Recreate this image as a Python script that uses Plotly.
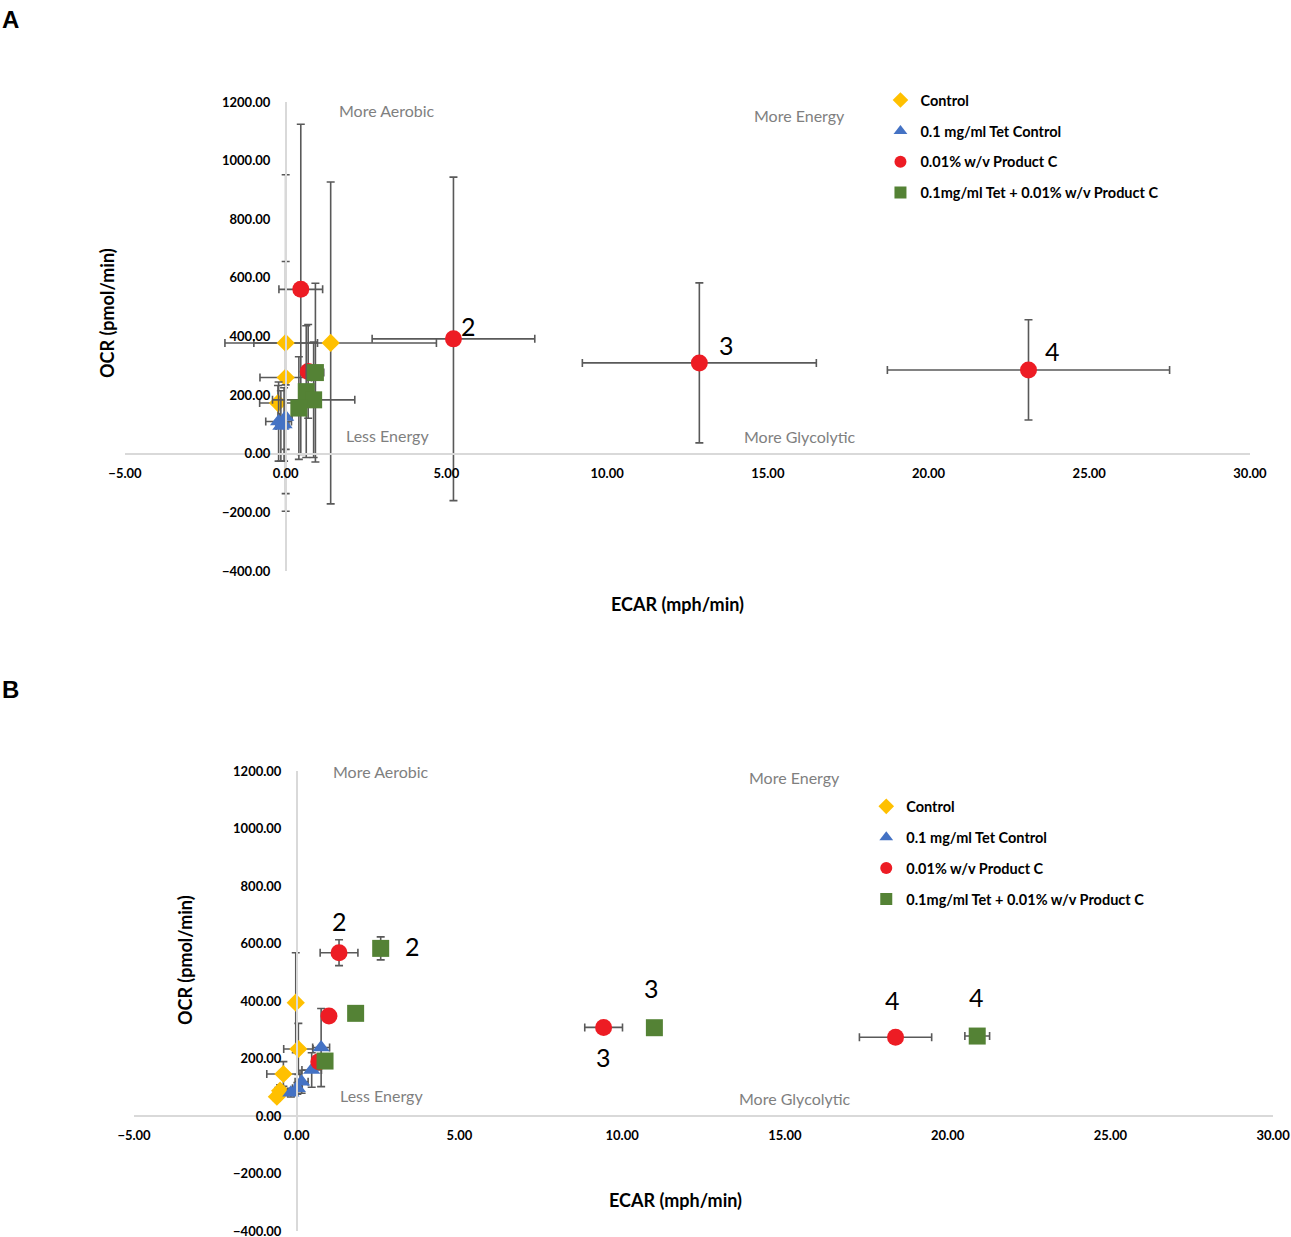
import plotly.graph_objects as go

# --- Panel A data (ECAR, OCR, error) ---
a_ctrl_x = [0.0, 1.40, 0.0, -0.24]
a_ctrl_y = [378, 378, 260, 173]
a_ctrl_ex = [0.99, 3.29, 0.80, 0.57]
a_ctrl_ey = [574, 549, 396, 60]

a_tet_x = [-0.15, -0.22, -0.05, 0.0]
a_tet_y = [95, 110, 100, 125]
a_tet_ex = [0.15, 0.40, 0.15, 0.20]
a_tet_ey = [120, 135, 125, 110]

a_prod_x = [0.47, 0.70, 5.22, 12.87, 23.11]
a_prod_y = [561, 281, 392, 310, 286]
a_prod_ex = [0.68, 0.15, 2.53, 3.64, 4.39]
a_prod_ey = [563, 160, 552, 273, 171]

a_comb_x = [0.925, 0.64, 0.87, 0.41]
a_comb_y = [277, 212, 184, 156]
a_comb_ex = [0.26, 0.15, 1.28, 0.20]
a_comb_ey = [305, 225, 197, 175]

# --- Panel B data ---
b_ctrl_x = [-0.03, 0.05, -0.41, -0.51, -0.61]
b_ctrl_y = [394, 233, 146, 88, 67]
b_ctrl_ex = [0.05, 0.45, 0.51, 0.15, 0.10]
b_ctrl_ey = [174, 89, 43, 20, 15]

b_tet_x = [0.75, 0.46, 0.15, 0.02, -0.18]
b_tet_y = [238, 160, 119, 96, 81]
b_tet_ex = [0.26, 0.30, 0.20, 0.15, 0.10]
b_tet_ey = [136, 60, 40, 20, 15]

b_prod_x = [1.30, 0.99, 0.68, 9.43, 18.40]
b_prod_y = [568, 348, 189, 308, 274]
b_prod_ex = [0.58, 0.05, 0.10, 0.58, 1.11]
b_prod_ey = [45, 10, 15, 10, 10]

b_comb_x = [2.58, 1.81, 0.87, 10.99, 20.91]
b_comb_y = [583, 357, 191, 307, 278]
b_comb_ex = [0.05, 0.12, 0.05, 0.05, 0.38]
b_comb_ey = [40, 10, 10, 5, 5]

series_names = ['Control', '0.1 mg/ml Tet Control', '0.01% w/v Product C',
                '0.1mg/ml Tet + 0.01% w/v Product C']
series_colors = ['#FFC000', '#4472C4', '#ED1C24', '#548235']
series_symbols = ['diamond', 'triangle-up', 'circle', 'square']
series_sizes = [14, 15, 17, 17]

# numbered time-point labels: (series index, point index, text, xshift, yshift)
a_labels = [(2, 2, '2', 15, 13), (2, 3, '3', 27, 18), (2, 4, '4', 24, 19)]
b_labels = [(2, 0, '2', 0, 32), (3, 0, '2', 32, 2), (2, 3, '3', 0, -30),
            (3, 3, '3', -3, 40), (2, 4, '4', -3, 37), (3, 4, '4', -1, 39)]

FONT = 'Lato'
ERR = '#595959'
AXLINE = '#d9d9d9'

# panel geometry (paper coords)
A_X = [0.0968, 0.9682]
A_Y = [0.5384, 0.9175]
B_X = [0.1038, 0.9861]
B_Y = [0.0049, 0.3767]
X_RANGE = [-5, 30]
Y_RANGE = [-400, 1200]


def pos_of_zero(dom, rng):
    return dom[0] + (0 - rng[0]) / (rng[1] - rng[0]) * (dom[1] - dom[0])


fig = go.Figure()

panels = [
    ('x', 'y', 'legend', [
        (a_ctrl_x, a_ctrl_y, a_ctrl_ex, a_ctrl_ey),
        (a_tet_x, a_tet_y, a_tet_ex, a_tet_ey),
        (a_prod_x, a_prod_y, a_prod_ex, a_prod_ey),
        (a_comb_x, a_comb_y, a_comb_ex, a_comb_ey)]),
    ('x2', 'y2', 'legend2', [
        (b_ctrl_x, b_ctrl_y, b_ctrl_ex, b_ctrl_ey),
        (b_tet_x, b_tet_y, b_tet_ex, b_tet_ey),
        (b_prod_x, b_prod_y, b_prod_ex, b_prod_ey),
        (b_comb_x, b_comb_y, b_comb_ex, b_comb_ey)]),
]

for xa, ya, leg, data in panels:
    for i, (xs, ys, exs, eys) in enumerate(data):
        fig.add_trace(go.Scatter(
            x=xs, y=ys, mode='markers', name=series_names[i],
            xaxis=xa, yaxis=ya, legend=leg, legendgroup=f'{leg}{i}',
            marker=dict(symbol=series_symbols[i], color=series_colors[i],
                        size=series_sizes[i], line=dict(width=0)),
            error_x=dict(type='data', array=exs, color=ERR, thickness=1.6, width=4),
            error_y=dict(type='data', array=eys, color=ERR, thickness=1.6, width=4),
        ))

# number labels
annotations = []
for xa, ya, data, labels in [('x', 'y', panels[0][3], a_labels), ('x2', 'y2', panels[1][3], b_labels)]:
    for s, p, txt, dx, dy in labels:
        annotations.append(dict(
            x=data[s][0][p], y=data[s][1][p], xref=xa, yref=ya, text=txt,
            showarrow=False, xshift=dx, yshift=dy, xanchor='center', yanchor='middle',
            font=dict(family=FONT, size=25, color='black')))

# quadrant labels
quad = [('More Aerobic', 0.233, 0.981), ('More Energy', 0.600, 0.972),
        ('Less Energy', 0.233, 0.290), ('More Glycolytic', 0.600, 0.286)]
quad_b = [('More Aerobic', 0.217, 0.998), ('More Energy', 0.580, 0.987),
          ('Less Energy', 0.217, 0.2935), ('More Glycolytic', 0.580, 0.287)]
for xa, ya, items in [('x', 'y', quad), ('x2', 'y2', quad_b)]:
    for txt, fx, fy in items:
        annotations.append(dict(
            x=fx, y=fy, xref=f'{xa} domain', yref=f'{ya} domain', text=txt,
            showarrow=False, xanchor='center', yanchor='middle',
            font=dict(family=FONT, size=16, color='#7f7f7f')))

# axis titles and panel letters
title_font = dict(family=FONT, size=18, color='black', weight='bold')
letter_font = dict(family='Liberation Sans', size=24, color='black', weight='bold')
mid = dict(showarrow=False, xanchor='center', yanchor='middle', xref='paper', yref='paper')
annotations += [
    dict(x=0.0829, y=0.747, text='OCR (pmol/min)', textangle=-90, font=title_font, **mid),
    dict(x=0.5244, y=0.5117, text='ECAR (mph/min)', font=title_font, **mid),
    dict(x=0.1433, y=0.2239, text='OCR (pmol/min)', textangle=-90, font=title_font, **mid),
    dict(x=0.5229, y=0.0299, text='ECAR (mph/min)', font=title_font, **mid),
    dict(x=0.0, y=0.997, xref='paper', yref='paper', text='A', xanchor='left', yanchor='top',
         showarrow=False, font=letter_font),
    dict(x=0.0, y=0.4555, xref='paper', yref='paper', text='B', xanchor='left', yanchor='top',
         showarrow=False, font=letter_font),
]

tick_font = dict(family=FONT, size=13, color='black', weight='bold')


def xaxis(dom, ydom):
    return dict(domain=dom, range=X_RANGE, anchor='free', position=pos_of_zero(ydom, Y_RANGE),
                dtick=5, tickformat='.2f', showline=True, linecolor=AXLINE, linewidth=1.5,
                showgrid=False, zeroline=False, ticks='', ticklabelstandoff=8, tickfont=tick_font,
                automargin=False, ticklabeloverflow='allow')


def yaxis(dom, xdom):
    return dict(domain=dom, range=Y_RANGE, anchor='free', position=pos_of_zero(xdom, X_RANGE),
                dtick=200, tickformat='.2f', showline=True, linecolor=AXLINE, linewidth=1.5,
                showgrid=False, zeroline=False, ticks='', ticklabelstandoff=12, tickfont=tick_font,
                automargin=False, ticklabeloverflow='allow')


legend_style = dict(font=dict(family=FONT, size=14.5, color='black', weight='bold'),
                    bgcolor='rgba(0,0,0,0)', itemsizing='constant', itemwidth=30,
                    tracegroupgap=9, xanchor='left', yanchor='top')

fig.update_layout(
    width=1291, height=1237,
    margin=dict(l=0, r=0, t=0, b=0, autoexpand=False),
    paper_bgcolor='white', plot_bgcolor='white',
    xaxis=xaxis(A_X, A_Y), yaxis=yaxis(A_Y, A_X),
    xaxis2=xaxis(B_X, B_Y), yaxis2=yaxis(B_Y, B_X),
    legend=dict(x=0.682, y=0.932, **legend_style),
    legend2=dict(x=0.671, y=0.361, **legend_style),
    annotations=annotations,
    showlegend=True,
)

fig.write_html("out.html", config={'displayModeBar': False},
               post_script="document.body.style.margin='0px';")
